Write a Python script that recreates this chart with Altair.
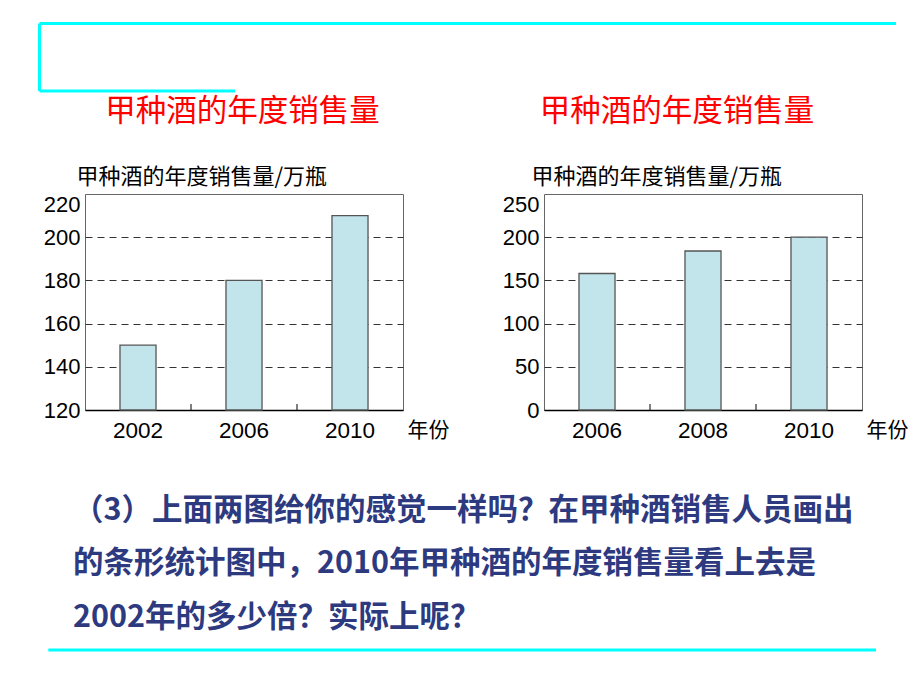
import altair as alt
import pandas as pd

# ---- data ----
years_a = ["2002", "2006", "2010"]
sales_a = [150, 180, 210]
ticks_a = [120, 140, 160, 180, 200, 220]

years_b = ["2006", "2008", "2010"]
sales_b = [158, 184, 200]
ticks_b = [0, 50, 100, 150, 200, 250]

chart_title = "甲种酒的年度销售量"
y_title = "甲种酒的年度销售量/万瓶"
x_title = "年份"
paragraph = [
    "（3）上面两图给你的感觉一样吗？在甲种酒销售人员画出",
    "的条形统计图中，2010年甲种酒的年度销售量看上去是",
    "2002年的多少倍？实际上呢？",
]

CJK = "Noto Sans CJK SC"
LAT = "Liberation Sans"
W, H = 318, 216
CYAN = "#00FFFF"
NAVY = "#2D3A80"


def one():
    return pd.DataFrame({"k": [0]})


def panel(years, sales, ticks, title_x, ytitle_x, ticks_years):
    df = pd.DataFrame({"year": years, "sales": sales})
    lo, hi = ticks[0], ticks[-1]
    edge = f"datum.value == {lo} || datum.value == {hi}"
    x_enc = alt.X(
        "year:N",
        sort=years,
        scale=alt.Scale(paddingInner=0, paddingOuter=0),
        axis=alt.Axis(
            title=x_title, titleX=W + 25, titleY=20, titleAngle=0,
            titleAlign="center", titleBaseline="middle",
            titleFont=CJK, titleFontSize=21, titleFontWeight="normal", titleColor="black",
            labelAngle=0, labelFont=LAT, labelFontSize=22.5, labelColor="black",
            labelPadding=20, labelBaseline="middle",
            ticks=False, domainColor="black", domainWidth=1.5, grid=False,
        ),
    )
    y_enc = alt.Y(
        "sales:Q",
        scale=alt.Scale(domain=[lo, hi], nice=False, zero=False),
        axis=alt.Axis(
            values=ticks, title=y_title, titleAngle=0, titleAlign="left",
            titleBaseline="middle", titleX=ytitle_x, titleY=-18,
            titleFont=CJK, titleFontSize=22, titleFontWeight="normal", titleColor="black",
            labelFont=LAT, labelFontSize=22, labelColor="black", labelPadding=5,
            labelBaseline={"condition": {"test": f"datum.value == {hi}", "value": "top"}, "value": "middle"},
            ticks=False, domain=False,
            grid=True, gridDash=[7, 5], gridColor="#333333", gridWidth=1,
            gridOpacity={"condition": {"test": edge, "value": 0}, "value": 1},
        ),
    )
    bars = alt.Chart(df).mark_bar(
        width=alt.RelativeBandSize(0.34), fill="#C2E5EB", stroke="#555555", strokeWidth=1.3
    ).encode(x=x_enc, y=y_enc, y2=alt.datum(lo))

    tdf = pd.DataFrame({"year": ticks_years})
    inner_ticks = alt.Chart(tdf).mark_rule(color="black", strokeWidth=1).encode(
        x=alt.X("year:N", sort=years, bandPosition=0),
        y=alt.value(H), y2=alt.value(H - 6),
    )

    title = alt.Chart(pd.DataFrame({"t": [chart_title]})).mark_text(
        font=CJK, fontSize=30.5, color="#FF0000", align="center", baseline="middle"
    ).encode(text="t:N", x=alt.value(title_x), y=alt.value(-82))

    return alt.layer(bars, inner_ticks, title).properties(width=W, height=H)


left = panel(years_a, sales_a, ticks_a, 157.5, -9, years_a[1:])
right = panel(years_b, sales_b, ticks_b, 133, -13, years_b[1:])


def hline(x1, x2, y):
    return alt.Chart(one()).mark_rule(color=CYAN, strokeWidth=3).encode(
        x=alt.value(x1), x2=alt.value(x2), y=alt.value(y)
    )


def vline(x, y1, y2):
    return alt.Chart(one()).mark_rule(color=CYAN, strokeWidth=3).encode(
        x=alt.value(x), y=alt.value(y1), y2=alt.value(y2)
    )


decor = [
    hline(-45.5, 811, -170.5),
    vline(-45.5, -170.5, -103),
    hline(-45.5, 150, -103),
    hline(-36.7, 791, 456),
]

para_layers = []
for i, line in enumerate(paragraph):
    para_layers.append(
        alt.Chart(pd.DataFrame({"t": [line]})).mark_text(
            font=CJK, fontSize=30.5, fontWeight="bold", color=NAVY,
            align="left", baseline="middle",
        ).encode(text="t:N", x=alt.value(-12), y=alt.value([317, 370, 424][i]))
    )

left_full = alt.layer(left, *decor, *para_layers)

chart = alt.hconcat(left_full, right, spacing=141).properties(
    bounds="flush",
    padding={"left": 37, "top": 21, "right": 5, "bottom": 5},
    background="white",
).configure_view(stroke="#666666", strokeWidth=1)

chart.save("out.html", embed_options={"renderer": "svg", "actions": False})
